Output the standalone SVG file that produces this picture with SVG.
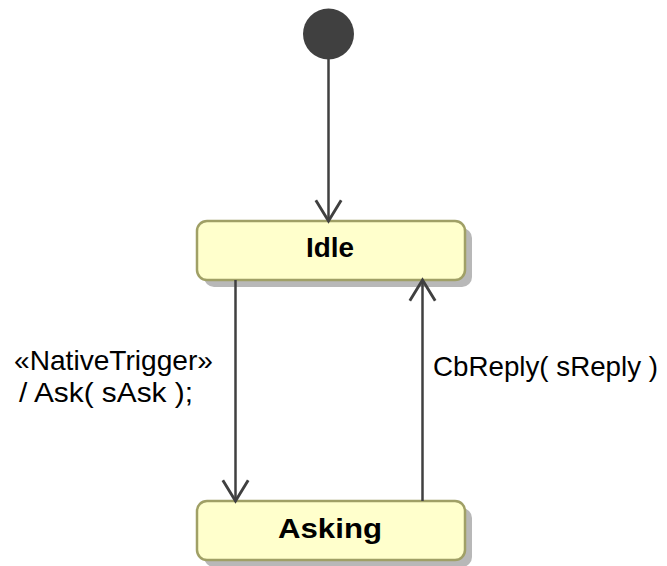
<svg xmlns="http://www.w3.org/2000/svg" width="667" height="566" viewBox="0 0 667 566">
<defs>
<style>
.state{fill:#ffffcc;stroke:#a0a066;stroke-width:2.5}
.shadow{fill:#b8b8b8}
.sname{font-family:"Liberation Sans",Arial,sans-serif;font-weight:bold;font-size:28px;fill:#000}
.lbl{font-family:"Liberation Sans",Arial,sans-serif;font-size:28px;fill:#000}
.edge{fill:none;stroke:#404040;stroke-width:2.5}
</style>
<marker id="open" markerUnits="userSpaceOnUse" markerWidth="30" markerHeight="30" viewBox="-20 -13 22 26" refX="0" refY="0" orient="auto">
<path d="M-18,-11 L0,0 L-18,11" fill="none" stroke="#404040" stroke-width="2.5"/>
</marker>
</defs>
<rect width="667" height="566" fill="#ffffff"/>
<g id="initial">
<circle cx="328.5" cy="34" r="25.5" fill="#404040"/>
</g>
<g id="Idle">
<rect class="shadow" x="204" y="228" width="268" height="59" rx="10"/>
<rect class="state" x="197" y="221" width="268" height="59" rx="10"/>
<text class="sname" x="330" y="257" text-anchor="middle" textLength="48" lengthAdjust="spacingAndGlyphs">Idle</text>
</g>
<g id="Asking">
<rect class="shadow" x="204" y="508" width="268" height="59" rx="10"/>
<rect class="state" x="197" y="501" width="268" height="59" rx="10"/>
<text class="sname" x="330" y="538" text-anchor="middle" textLength="104" lengthAdjust="spacingAndGlyphs">Asking</text>
</g>
<g id="connectors">
<line class="edge" x1="328.5" y1="59" x2="328.5" y2="221" marker-end="url(#open)"/>
<line class="edge" x1="235.5" y1="280" x2="235.5" y2="501" marker-end="url(#open)"/>
<line class="edge" x1="422.5" y1="501" x2="422.5" y2="280" marker-end="url(#open)"/>
<text class="lbl" x="14" y="370" textLength="199" lengthAdjust="spacingAndGlyphs">«NativeTrigger»</text>
<text class="lbl" x="19" y="402" textLength="174" lengthAdjust="spacingAndGlyphs">/ Ask( sAsk );</text>
<text class="lbl" x="433" y="376" textLength="225" lengthAdjust="spacingAndGlyphs">CbReply( sReply )</text>
</g>
</svg>
